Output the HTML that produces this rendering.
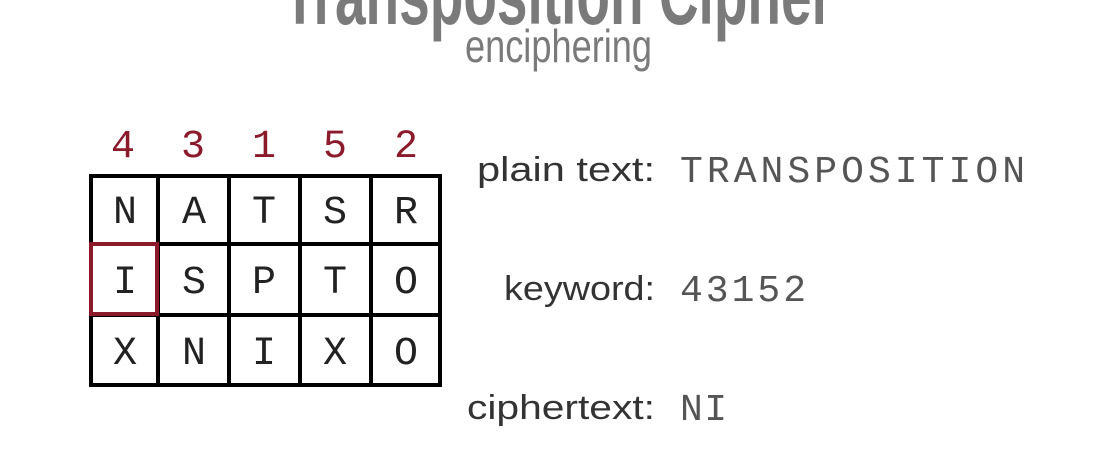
<!DOCTYPE html>
<html><head><meta charset="utf-8"><style>
html,body{margin:0;padding:0;background:#fff;width:1120px;height:450px;overflow:hidden}
</style></head><body>
<svg width="1120" height="450" viewBox="0 0 1120 450" xmlns="http://www.w3.org/2000/svg">
<rect width="1120" height="450" fill="#fff"/>
<text x="283" y="24" font-family="Liberation Sans Narrow, Liberation Sans, sans-serif" font-weight="bold" font-size="84" fill="#7a7a7a" textLength="550" lengthAdjust="spacingAndGlyphs">Transposition Cipher</text>
<text x="465" y="62" font-family="Liberation Sans Narrow, Liberation Sans, sans-serif" font-size="46" fill="#7a7a7a" textLength="187" lengthAdjust="spacingAndGlyphs">enciphering</text>
<g font-family="Liberation Mono, monospace" font-size="40" fill="#8b1a2b" text-anchor="middle">
<text x="123" y="157">4</text><text x="193" y="157">3</text><text x="264" y="157">1</text><text x="335" y="157">5</text><text x="406" y="157">2</text>
</g>
<g stroke="#000" stroke-width="4" fill="none">
<rect x="91" y="176" width="349" height="209"/>
<line x1="158" y1="176" x2="158" y2="385"/>
<line x1="229" y1="176" x2="229" y2="385"/>
<line x1="300" y1="176" x2="300" y2="385"/>
<line x1="371" y1="176" x2="371" y2="385"/>
<line x1="91" y1="244" x2="440" y2="244"/>
<line x1="91" y1="315" x2="440" y2="315"/>
</g>
<rect x="91" y="244" width="66" height="70" fill="none" stroke="#8b1a2b" stroke-width="4"/>
<g font-family="Liberation Mono, monospace" font-size="40" fill="#222" text-anchor="middle">
<text x="125" y="223">N</text><text x="194" y="223">A</text><text x="264" y="223">T</text><text x="335" y="223">S</text><text x="406" y="223">R</text>
<text x="125" y="293">I</text><text x="194" y="293">S</text><text x="264" y="293">P</text><text x="335" y="293">T</text><text x="406" y="293">O</text>
<text x="125" y="364">X</text><text x="194" y="364">N</text><text x="264" y="364">I</text><text x="335" y="364">X</text><text x="406" y="364">O</text>
</g>
<g font-family="Liberation Sans, sans-serif" font-size="34" fill="#333" text-anchor="end">
<text x="655" y="181" textLength="178" lengthAdjust="spacingAndGlyphs">plain text:</text>
<text x="655" y="300" textLength="151" lengthAdjust="spacingAndGlyphs">keyword:</text>
<text x="655" y="419" textLength="188" lengthAdjust="spacingAndGlyphs">ciphertext:</text>
</g>
<g font-family="Liberation Mono, monospace" font-size="38" fill="#555">
<text x="680" y="182" textLength="345" lengthAdjust="spacing">TRANSPOSITION</text>
<text x="680" y="301" textLength="126" lengthAdjust="spacing">43152</text>
<text x="680" y="420" textLength="47" lengthAdjust="spacing">NI</text>
</g>
</svg>
</body></html>
